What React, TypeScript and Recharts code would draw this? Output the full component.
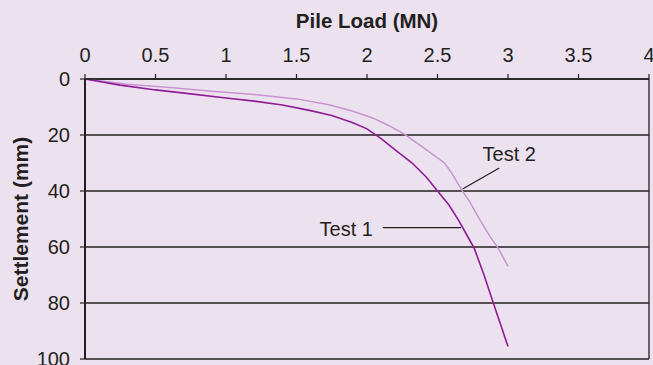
import React from 'react';
import {
  LineChart,
  Line,
  XAxis,
  YAxis,
  CartesianGrid,
  ReferenceLine,
  ReferenceDot,
  Label,
} from 'recharts';

// Pile load (MN) vs settlement (mm)
const test1 = [
  { load: 0, settlement: 0 },
  { load: 0.25, settlement: 2.2 },
  { load: 0.5, settlement: 3.9 },
  { load: 0.75, settlement: 5.3 },
  { load: 1.0, settlement: 6.8 },
  { load: 1.2, settlement: 7.9 },
  { load: 1.4, settlement: 9.3 },
  { load: 1.6, settlement: 11.3 },
  { load: 1.75, settlement: 13.0 },
  { load: 1.9, settlement: 15.6 },
  { load: 2.0, settlement: 17.8 },
  { load: 2.1, settlement: 21.3 },
  { load: 2.2, settlement: 25.3 },
  { load: 2.32, settlement: 30.0 },
  { load: 2.42, settlement: 35.0 },
  { load: 2.5, settlement: 40.0 },
  { load: 2.58, settlement: 44.9 },
  { load: 2.65, settlement: 50.5 },
  { load: 2.7, settlement: 55.0 },
  { load: 2.76, settlement: 60.4 },
  { load: 2.83, settlement: 70.0 },
  { load: 2.9, settlement: 80.6 },
  { load: 2.95, settlement: 88.0 },
  { load: 3.0, settlement: 95.5 },
];

const test2 = [
  { load: 0, settlement: 0 },
  { load: 0.3, settlement: 1.9 },
  { load: 0.6, settlement: 3.0 },
  { load: 0.9, settlement: 4.4 },
  { load: 1.2, settlement: 5.5 },
  { load: 1.5, settlement: 7.1 },
  { load: 1.73, settlement: 9.2 },
  { load: 1.9, settlement: 11.5 },
  { load: 2.04, settlement: 13.9 },
  { load: 2.15, settlement: 16.5 },
  { load: 2.27, settlement: 19.9 },
  { load: 2.4, settlement: 24.5 },
  { load: 2.55, settlement: 30.0 },
  { load: 2.6, settlement: 33.5 },
  { load: 2.67, settlement: 39.5 },
  { load: 2.73, settlement: 44.0 },
  { load: 2.8, settlement: 50.2 },
  { load: 2.87, settlement: 56.0 },
  { load: 2.93, settlement: 60.4 },
  { load: 3.0, settlement: 66.9 },
];

const xTicks = [0, 0.5, 1, 1.5, 2, 2.5, 3, 3.5, 4];
const yTicks = [0, 20, 40, 60, 80, 100];

const xTitle = 'Pile Load (MN)';
const yTitle = 'Settlement (mm)';

// annotation anchors (data units)
const test1Label = { text: 'Test 1', load: 1.853, settlement: 53.7 };
const test2Label = { text: 'Test 2', load: 3.009, settlement: 26.9 };
const test1Leader = [
  { x: 2.112, y: 53.1 },
  { x: 2.667, y: 53.1 },
];
const test2Leader = [
  { x: 2.938, y: 31.8 },
  { x: 2.678, y: 39.3 },
];

const BG = '#ece2ef';
const INK = '#231f20';
const C1 = '#8e1c95';
const C2 = '#c893d0';
const FONT = '"Liberation Sans", Arial, Helvetica, sans-serif';

const tickStyle = { fill: INK, fontSize: 20, fontFamily: FONT };

export default function App() {
  return (
    <div
      style={{
        position: 'absolute',
        left: 0,
        top: 0,
        width: 653,
        height: 365,
        background: BG,
        overflow: 'hidden',
      }}
    >
      <LineChart
        width={653}
        height={365}
        margin={{ top: 0, right: 4, bottom: 6, left: 0 }}
      >
        <CartesianGrid vertical={false} stroke={INK} strokeWidth={1.3} />
        <XAxis
          type="number"
          dataKey="load"
          orientation="top"
          domain={[0, 4]}
          ticks={xTicks}
          height={79}
          tickSize={5}
          tickMargin={12}
          tick={tickStyle}
          stroke={INK}
          strokeWidth={1.5}
          tickLine={{ stroke: INK, strokeWidth: 1.2 }}
          interval={0}
          allowDataOverflow
        >
          <Label
            content={(props: any) => {
              const vb = props.viewBox || { x: 85, width: 564 };
              return (
                <text
                  x={vb.x + vb.width / 2}
                  y={27.5}
                  textAnchor="middle"
                  fill={INK}
                  fontSize={20.5}
                  fontWeight="bold"
                  fontFamily={FONT}
                >
                  {xTitle}
                </text>
              );
            }}
          />
        </XAxis>
        <YAxis
          type="number"
          dataKey="settlement"
          reversed
          domain={[0, 100]}
          ticks={yTicks}
          width={85}
          tickSize={5}
          tickMargin={10}
          tick={tickStyle}
          stroke={INK}
          strokeWidth={2}
          tickLine={{ stroke: INK, strokeWidth: 1.2 }}
          interval={0}
          allowDataOverflow
        >
          <Label
            content={(props: any) => {
              const vb = props.viewBox || { y: 79, height: 280 };
              const cy = vb.y + vb.height / 2;
              return (
                <text
                  x={27.5}
                  y={cy}
                  transform={`rotate(-90, 27.5, ${cy})`}
                  textAnchor="middle"
                  fill={INK}
                  fontSize={21}
                  fontWeight="bold"
                  fontFamily={FONT}
                >
                  {yTitle}
                </text>
              );
            }}
          />
        </YAxis>
        <ReferenceLine x={4} stroke={INK} strokeWidth={1.3} />
        <Line
          data={test2}
          dataKey="settlement"
          type="linear"
          stroke={C2}
          strokeWidth={1.5}
          dot={false}
          activeDot={false}
          isAnimationActive={false}
        />
        <Line
          data={test1}
          dataKey="settlement"
          type="linear"
          stroke={C1}
          strokeWidth={1.6}
          dot={false}
          activeDot={false}
          isAnimationActive={false}
        />
        <ReferenceLine segment={test1Leader} stroke={INK} strokeWidth={1.2} />
        <ReferenceLine segment={test2Leader} stroke={INK} strokeWidth={1.2} />
        <ReferenceDot
          x={test1Label.load}
          y={test1Label.settlement}
          r={0}
          fill="none"
          stroke="none"
          label={{
            value: test1Label.text,
            position: 'center',
            fill: INK,
            fontSize: 20,
            fontFamily: FONT,
          }}
        />
        <ReferenceDot
          x={test2Label.load}
          y={test2Label.settlement}
          r={0}
          fill="none"
          stroke="none"
          label={{
            value: test2Label.text,
            position: 'center',
            fill: INK,
            fontSize: 20,
            fontFamily: FONT,
          }}
        />
      </LineChart>
    </div>
  );
}
